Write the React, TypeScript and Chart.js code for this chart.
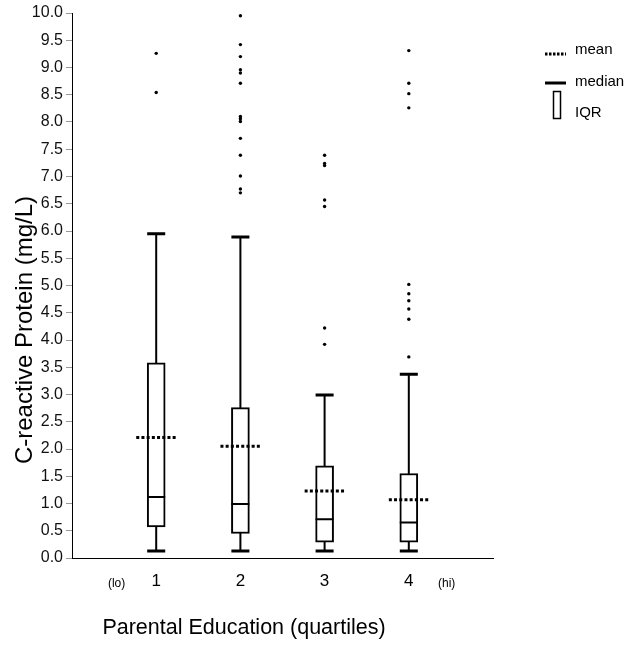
import { useEffect, useRef } from "react";
import { Chart, registerables } from "chart.js";

Chart.register(...registerables);

// ---- data ----
const groups = [1, 2, 3, 4];
const q1 = [0.57, 0.45, 0.29, 0.29];
const q3 = [3.58, 2.76, 1.69, 1.55];
const medians = [1.12, 0.99, 0.71, 0.65];
const means = [2.21, 2.05, 1.23, 1.07];
const whiskerLow = [0.13, 0.13, 0.13, 0.13];
const whiskerHigh = [5.95, 5.89, 2.99, 3.37];
const outliers1 = [9.26, 8.54];
const outliers2 = [9.95, 9.42, 9.2, 8.96, 8.9, 8.71, 8.1, 8.06, 8.01, 7.7, 7.39, 7.01, 6.77, 6.7];
const outliers3 = [7.39, 7.24, 7.2, 6.57, 6.45, 4.22, 3.92];
const outliers4 = [9.31, 8.71, 8.52, 8.26, 5.02, 4.85, 4.72, 4.57, 4.38, 3.69];
const outliers = [outliers1, outliers2, outliers3, outliers4];
const xTickValues = [0.53, 1, 2, 3, 4, 4.45];
const xTickLabels = ["(lo)", "1", "2", "3", "4", "(hi)"];
const yMin = 0;
const yMax = 10;
const yStep = 0.5;
const yTitle = "C-reactive Protein (mg/L)";
const xTitle = "Parental Education (quartiles)";
const legendLabels = ["mean", "median", "IQR"];

// ---- geometry / style constants (in x-axis units) ----
const BOX_HALF = 0.107;
const MEAN_HALF = 0.237;
const FONT = '"Liberation Sans", Arial, Helvetica, sans-serif';

function segs(fn: (i: number) => Array<{ x: number; y: number }>) {
  const out: any[] = [];
  groups.forEach((g, i) => {
    out.push(...fn(i));
    out.push({ x: g, y: null });
  });
  return out;
}

const decorPlugin = {
  id: "decor",
  afterDraw(chart: any) {
    const ctx = chart.ctx;
    ctx.save();
    ctx.fillStyle = "#000";
    ctx.strokeStyle = "#000";
    // y title
    ctx.save();
    ctx.translate(32, 330);
    ctx.rotate(-Math.PI / 2);
    ctx.font = `24px ${FONT}`;
    ctx.textAlign = "center";
    ctx.textBaseline = "alphabetic";
    ctx.fillText(yTitle, 0, 0);
    ctx.restore();
    // x title
    ctx.font = `21.5px ${FONT}`;
    ctx.textAlign = "center";
    ctx.textBaseline = "alphabetic";
    ctx.fillText(xTitle, 244, 634);
    // legend
    ctx.font = `15px ${FONT}`;
    ctx.textAlign = "left";
    ctx.textBaseline = "alphabetic";
    ctx.lineWidth = 3;
    ctx.setLineDash([2.5, 1.5]);
    ctx.beginPath();
    ctx.moveTo(545, 54);
    ctx.lineTo(566, 54);
    ctx.stroke();
    ctx.setLineDash([]);
    ctx.fillText(legendLabels[0], 575, 54);
    ctx.beginPath();
    ctx.moveTo(545, 83);
    ctx.lineTo(566, 83);
    ctx.stroke();
    ctx.fillText(legendLabels[1], 575, 86);
    ctx.lineWidth = 1.5;
    ctx.strokeRect(553.5, 91.5, 7, 27);
    ctx.fillText(legendLabels[2], 575, 117);
    ctx.restore();
  },
};

export default function App() {
  const ref = useRef<HTMLCanvasElement | null>(null);
  useEffect(() => {
    if (!ref.current) return;
    const chart = new Chart(ref.current, {
      type: "bar",
      data: {
        datasets: [
          {
            type: "line",
            data: segs((i) => [
              { x: groups[i], y: whiskerLow[i] },
              { x: groups[i], y: whiskerHigh[i] },
            ]),
            borderColor: "#000",
            borderWidth: 2,
            pointRadius: 0,
            spanGaps: false,
            order: 5,
          } as any,
          {
            type: "bar",
            data: groups.map((g, i) => ({ x: g, y: [q1[i], q3[i]] })),
            backgroundColor: "#fff",
            borderColor: "#000",
            borderWidth: 2,
            borderSkipped: false,
            barThickness: 18,
            order: 4,
          } as any,
          {
            type: "line",
            data: segs((i) => [
              { x: groups[i] - BOX_HALF, y: medians[i] },
              { x: groups[i] + BOX_HALF, y: medians[i] },
            ]),
            borderColor: "#000",
            borderWidth: 2,
            pointRadius: 0,
            spanGaps: false,
            order: 3,
          } as any,
          {
            type: "line",
            data: [
              ...segs((i) => [
                { x: groups[i] - BOX_HALF, y: whiskerLow[i] },
                { x: groups[i] + BOX_HALF, y: whiskerLow[i] },
              ]),
              ...segs((i) => [
                { x: groups[i] - BOX_HALF, y: whiskerHigh[i] },
                { x: groups[i] + BOX_HALF, y: whiskerHigh[i] },
              ]),
            ],
            borderColor: "#000",
            borderWidth: 3,
            pointRadius: 0,
            spanGaps: false,
            order: 3,
          } as any,
          {
            type: "line",
            data: segs((i) => [
              { x: groups[i] - MEAN_HALF, y: means[i] },
              { x: groups[i] + MEAN_HALF, y: means[i] },
            ]),
            borderColor: "#000",
            borderWidth: 3,
            borderDash: [3, 2.2],
            pointRadius: 0,
            spanGaps: false,
            order: 2,
          } as any,
          {
            type: "scatter",
            data: outliers.flatMap((arr, i) => arr.map((y) => ({ x: groups[i], y }))),
            backgroundColor: "#000",
            borderWidth: 0,
            pointRadius: 1.7,
            order: 1,
          } as any,
        ],
      },
      options: {
        responsive: false,
        animation: false,
        events: [],
        layout: { padding: { top: 13, right: 140, left: 0, bottom: 0 } },
        plugins: { legend: { display: false }, tooltip: { enabled: false } },
        scales: {
          x: {
            type: "linear",
            min: 0,
            max: 5,
            offset: false,
            afterFit: (s: any) => {
              s.height = 89;
            },
            afterBuildTicks: (s: any) => {
              s.ticks = xTickValues.map((v) => ({ value: v }));
            },
            grid: { display: false, drawTicks: false },
            border: { display: true, color: "#000", width: 1 },
            ticks: {
              autoSkip: false,
              maxRotation: 0,
              padding: 13,
              color: "#000",
              callback: (_v: any, i: number) => xTickLabels[i],
              font: (c: any) =>
                c.tick && String(c.tick.label).startsWith("(")
                  ? { family: FONT, size: 12, lineHeight: 2.15 }
                  : { family: FONT, size: 17 },
            },
          },
          y: {
            type: "linear",
            min: yMin,
            max: yMax,
            afterFit: (s: any) => {
              s.width = 72;
            },
            grid: { drawOnChartArea: false, drawTicks: true, tickLength: 6, color: "#999" },
            border: { display: true, color: "#000", width: 1 },
            ticks: {
              stepSize: yStep,
              autoSkip: false,
              padding: 3,
              color: "#111",
              font: { family: FONT, size: 16 },
              callback: (v: any) => Number(v).toFixed(1),
            },
          },
        },
      },
      plugins: [decorPlugin],
    } as any);
    return () => chart.destroy();
  }, []);
  return (
    <canvas
      ref={ref}
      width={633}
      height={647}
      style={{ position: "absolute", left: 0, top: 0, display: "block" }}
    />
  );
}
